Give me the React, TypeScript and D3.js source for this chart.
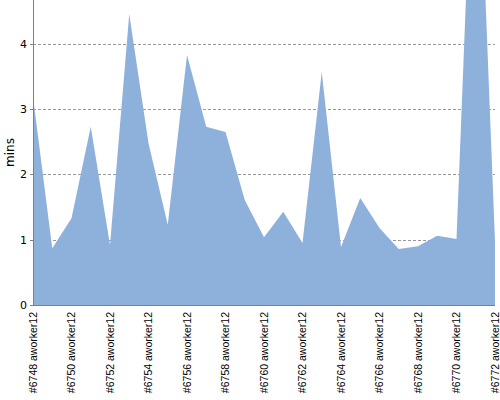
import React from "react";
import * as d3 from "d3";

const categories = [
  "#6748 aworker12", "#6749 aworker12", "#6750 aworker12", "#6751 aworker12", "#6752 aworker12",
  "#6753 aworker12", "#6754 aworker12", "#6755 aworker12", "#6756 aworker12", "#6757 aworker12",
  "#6758 aworker12", "#6759 aworker12", "#6760 aworker12", "#6761 aworker12", "#6762 aworker12",
  "#6763 aworker12", "#6764 aworker12", "#6765 aworker12", "#6766 aworker12", "#6767 aworker12",
  "#6768 aworker12", "#6769 aworker12", "#6770 aworker12", "#6771 aworker12", "#6772 aworker12",
];
const values = [
  3.19, 0.87, 1.33, 2.73, 0.92, 4.46, 2.48, 1.23, 3.83, 2.73,
  2.65, 1.61, 1.04, 1.43, 0.95, 3.57, 0.89, 1.64, 1.18, 0.86,
  0.9, 1.06, 1.01, 8.5, 0.97,
];
const yTicks = [0, 1, 2, 3, 4];
const yLabel = "mins";

export default function App() {
  const W = 500, H = 400;
  const left = 33, right = 495, top = 0, bottom = 305;
  const x = d3.scaleLinear().domain([0, categories.length - 1]).range([left, right]);
  const y = d3.scaleLinear().domain([0, 4.674]).range([bottom, top]);
  const area = d3.area<number>().x((_, i) => x(i)).y0(bottom).y1((d) => y(d));
  return (
    <svg width={W} height={H} style={{ position: "absolute", left: 0, top: 0, background: "#fff" }}>
      <defs>
        <clipPath id="plot"><rect x={left} y={top} width={right - left} height={bottom - top} /></clipPath>
      </defs>
      {yTicks.filter((t) => t > 0).map((t) => (
        <line key={t} x1={left} x2={right} y1={Math.round(y(t)) + 0.5} y2={Math.round(y(t)) + 0.5}
          stroke="#999999" strokeDasharray="3,2" strokeWidth={1} />
      ))}
      <path d={area(values) || ""} fill="#8eb1db" clipPath="url(#plot)" />
      <line x1={left + 0.5} x2={left + 0.5} y1={0} y2={bottom} stroke="#808080" />
      <line x1={left} x2={right} y1={bottom + 0.5} y2={bottom + 0.5} stroke="#808080" />
      {yTicks.map((t) => (
        <g key={t}>
          <line x1={left - 3} x2={left} y1={Math.round(y(t)) + 0.5} y2={Math.round(y(t)) + 0.5} stroke="#808080" />
          <text x={left - 6} y={y(t)} dy="0.35em" textAnchor="end" fontSize={11}
            fontFamily="DejaVu Sans" fill="#000">{t}</text>
        </g>
      ))}
      <text transform={`translate(14,${(top + bottom) / 2}) rotate(-90)`} textAnchor="middle"
        fontSize={12} fontFamily="DejaVu Sans" fill="#000">{yLabel}</text>
      {categories.map((c, i) => i % 2 === 0 ? (
        <text key={c} transform={`translate(${x(i)},312) rotate(-90)`} textAnchor="end" dy="0.35em"
          fontSize={10.5} fontFamily="Liberation Sans" fill="#000">{c}</text>
      ) : null)}
    </svg>
  );
}
